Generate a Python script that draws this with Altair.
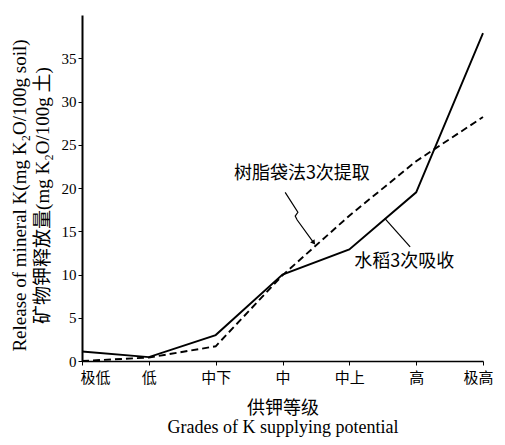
import json
import altair as alt
import pandas as pd

grades = ['极低', '低', '中下', '中', '中上', '高', '极高']
rice = [1.1, 0.45, 3.0, 10.0, 12.9, 19.5, 37.9]
resin = [0.0, 0.4, 1.7, 9.9, 16.8, 23.1, 28.2]
y_ticks = [0, 5, 10, 15, 20, 25, 30, 35]

ann_text = ['树脂袋法3次提取', '水稻3次吸收']
ann_x = [3.29, 4.82]
ann_y = [21.6, 11.5]

lead_group = ['resin'] * 5 + ['rice'] * 2
lead_order = [0, 1, 2, 3, 4, 0, 1]
lead_x = [3.04, 3.23, 3.19, 3.22, 3.46, 4.53, 4.91]
lead_y = [19.5, 17.2, 16.75, 16.3, 13.75, 16.5, 13.2]

idx = list(range(len(grades)))
df_rice = pd.DataFrame({'i': idx, 'v': rice})
df_resin = pd.DataFrame({'i': idx, 'v': resin})
df_ann = pd.DataFrame({'t': ann_text, 'x': ann_x, 'y': ann_y})
df_lead = pd.DataFrame({'g': lead_group, 'o': lead_order, 'x': lead_x, 'y': lead_y})
df_arrow = df_lead[(df_lead.g == 'resin') & (df_lead.o == 4)]

label_expr = json.dumps(grades, ensure_ascii=False) + '[datum.value]'
serif = 'Liberation Serif, Noto Sans CJK SC'
cjk = 'Noto Sans CJK SC'

xs = alt.Scale(domain=[0, 6], nice=False, zero=False)
ys = alt.Scale(domain=[0, 40], nice=False)

x_axis = alt.Axis(values=idx, labelExpr=label_expr, grid=False,
                  title=['供钾等级', 'Grades of K supplying potential'],
                  titleFont=serif, titleFontSize=18, titleFontWeight='normal',
                  titleLineHeight=19, titlePadding=14, titleColor='black',
                  labelFont=cjk, labelFontSize=15, labelColor='black', labelPadding=5,
                  labelOffset={'condition': [{'test': 'datum.value == 0', 'value': 13},
                                             {'test': 'datum.value == 6', 'value': -5}],
                               'value': 0},
                  tickSize=4, tickColor='black', domainColor='black', domainWidth=1.5,
                  labelFlush=False)
y_axis = alt.Axis(values=y_ticks, grid=False,
                  title=['Release of mineral K(mg K₂O/100g soil)', '矿物钾释放量(mg K₂O/100g 土)'],
                  titleFont=serif, titleFontSize=19, titleFontWeight='normal',
                  titleLineHeight=23, titlePadding=9, titleColor='black', titleY=180,
                  labelFont='Liberation Serif', labelFontSize=15, labelColor='black', labelPadding=2,
                  tickSize=4, tickColor='black', domainColor='black', domainWidth=2)

base_rice = alt.Chart(df_rice).mark_line(color='black', strokeWidth=1.9).encode(
    x=alt.X('i:Q', scale=xs, axis=x_axis),
    y=alt.Y('v:Q', scale=ys, axis=y_axis),
)
base_resin = alt.Chart(df_resin).mark_line(color='black', strokeWidth=1.9, strokeDash=[7, 4]).encode(
    x=alt.X('i:Q', scale=xs),
    y=alt.Y('v:Q', scale=ys),
)
leaders = alt.Chart(df_lead).mark_line(color='black', strokeWidth=1.2).encode(
    x=alt.X('x:Q', scale=xs),
    y=alt.Y('y:Q', scale=ys),
    detail='g:N',
    order='o:Q',
)
arrow = alt.Chart(df_arrow).mark_point(shape='triangle', filled=True, color='black',
                                        size=30, angle=144, opacity=1).encode(
    x=alt.X('x:Q', scale=xs),
    y=alt.Y('y:Q', scale=ys),
)
texts = alt.Chart(df_ann).mark_text(font=cjk, fontSize=18, color='black').encode(
    x=alt.X('x:Q', scale=xs),
    y=alt.Y('y:Q', scale=ys),
    text='t:N',
)

chart = alt.layer(base_rice, base_resin, leaders, arrow, texts).properties(
    width=401, height=346,
    autosize=alt.AutoSizeParams(type='none'),
    padding={'left': 74, 'top': 7, 'right': 14, 'bottom': 76},
    background='white',
).configure_view(stroke=None)

chart.save('out.html', embed_options={'renderer': 'svg', 'actions': False})
